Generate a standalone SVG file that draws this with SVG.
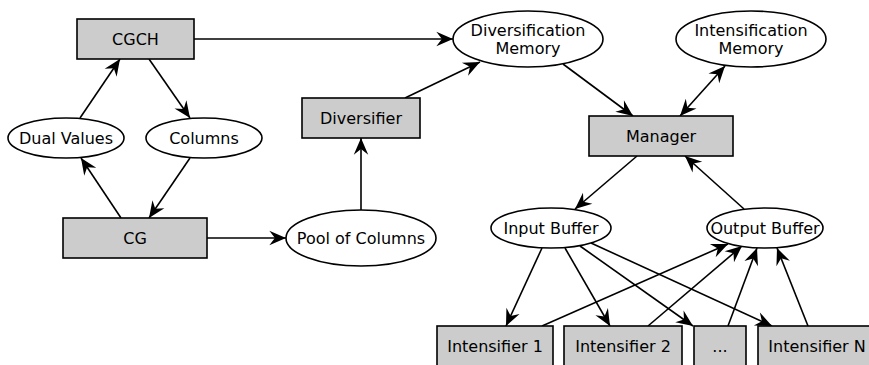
<svg xmlns="http://www.w3.org/2000/svg" width="869" height="365" viewBox="0 0 869 365">
<style>
.box{fill:#cccccc;stroke:#000;stroke-width:1.6}
.ell{fill:#fff;stroke:#000;stroke-width:1.6}
.lbl{font-family:"DejaVu Sans",sans-serif;font-size:16px;fill:#000;text-anchor:middle}
.e{fill:none;stroke:#000;stroke-width:1.6;marker-end:url(#ah)}
.bi{marker-start:url(#ah)}
</style>
<defs>
<marker id="ah" markerUnits="userSpaceOnUse" markerWidth="20" markerHeight="20" viewBox="-16 -8 18 16" refX="0" refY="0" orient="auto-start-reverse">
<path d="M0,0 L-15,-6.5 L-10,0 L-15,6.5 Z" fill="#000"/>
</marker>
</defs>
<rect width="869" height="365" fill="#fff"/>
<g id="connectors">
<path class="e" d="M194,39 L453,39"/>
<path class="e" d="M80,118 L120,59"/>
<path class="e" d="M149,59 L190,118"/>
<path class="e" d="M190,158 L149,218"/>
<path class="e" d="M121,218 L81,158"/>
<path class="e" d="M207,238 L286,238"/>
<path class="e" d="M361,210 L361,138"/>
<path class="e" d="M405,98 L480,62"/>
<path class="e" d="M563,64 L633,116"/>
<path class="e bi" d="M725,66 L680,116"/>
<path class="e" d="M637,156 L575,209"/>
<path class="e" d="M744,209 L685,156"/>
<path class="e" d="M542,248 L506,326"/>
<path class="e" d="M565,248 L610,326"/>
<path class="e" d="M580,246 L693,326"/>
<path class="e" d="M591,243 L772,326"/>
<path class="e" d="M542,326 L728,244"/>
<path class="e" d="M648,326 L742,246"/>
<path class="e" d="M728,326 L757,248"/>
<path class="e" d="M808,326 L777,248"/>
</g>
<g id="cgch"><rect class="box" x="77" y="19" width="117" height="40"/><text class="lbl" x="135.5" y="45">CGCH</text></g>
<g id="dual-values"><ellipse class="ell" cx="66" cy="138" rx="58" ry="20"/><text class="lbl" x="66" y="144">Dual Values</text></g>
<g id="columns"><ellipse class="ell" cx="204" cy="138" rx="58" ry="20"/><text class="lbl" x="204" y="144">Columns</text></g>
<g id="cg"><rect class="box" x="63" y="218" width="144" height="40"/><text class="lbl" x="135" y="244">CG</text></g>
<g id="pool"><ellipse class="ell" cx="361" cy="238" rx="75" ry="28"/><text class="lbl" x="361" y="244">Pool of Columns</text></g>
<g id="diversifier"><rect class="box" x="302" y="98" width="118" height="40"/><text class="lbl" x="361" y="124">Diversifier</text></g>
<g id="div-memory"><ellipse class="ell" cx="528" cy="39" rx="75" ry="28"/><text class="lbl" x="528" y="36">Diversification</text><text class="lbl" x="528" y="54">Memory</text></g>
<g id="int-memory"><ellipse class="ell" cx="751" cy="39" rx="75" ry="28"/><text class="lbl" x="751" y="36">Intensification</text><text class="lbl" x="751" y="54">Memory</text></g>
<g id="manager"><rect class="box" x="589" y="116" width="144" height="40"/><text class="lbl" x="661" y="142">Manager</text></g>
<g id="input-buffer"><ellipse class="ell" cx="551" cy="228" rx="60" ry="20"/><text class="lbl" x="551" y="234">Input Buffer</text></g>
<g id="output-buffer"><ellipse class="ell" cx="765" cy="228" rx="58" ry="20"/><text class="lbl" x="765" y="234">Output Buffer</text></g>
<g id="intensifier-1"><rect class="box" x="437" y="326" width="116" height="40"/><text class="lbl" x="495" y="352">Intensifier 1</text></g>
<g id="intensifier-2"><rect class="box" x="564" y="326" width="118" height="40"/><text class="lbl" x="623" y="352">Intensifier 2</text></g>
<g id="intensifier-dots"><rect class="box" x="694" y="326" width="52" height="40"/><text class="lbl" x="720" y="352">...</text></g>
<g id="intensifier-n"><rect class="box" x="758" y="326" width="118" height="40"/><text class="lbl" x="817" y="352">Intensifier N</text></g>
</svg>
